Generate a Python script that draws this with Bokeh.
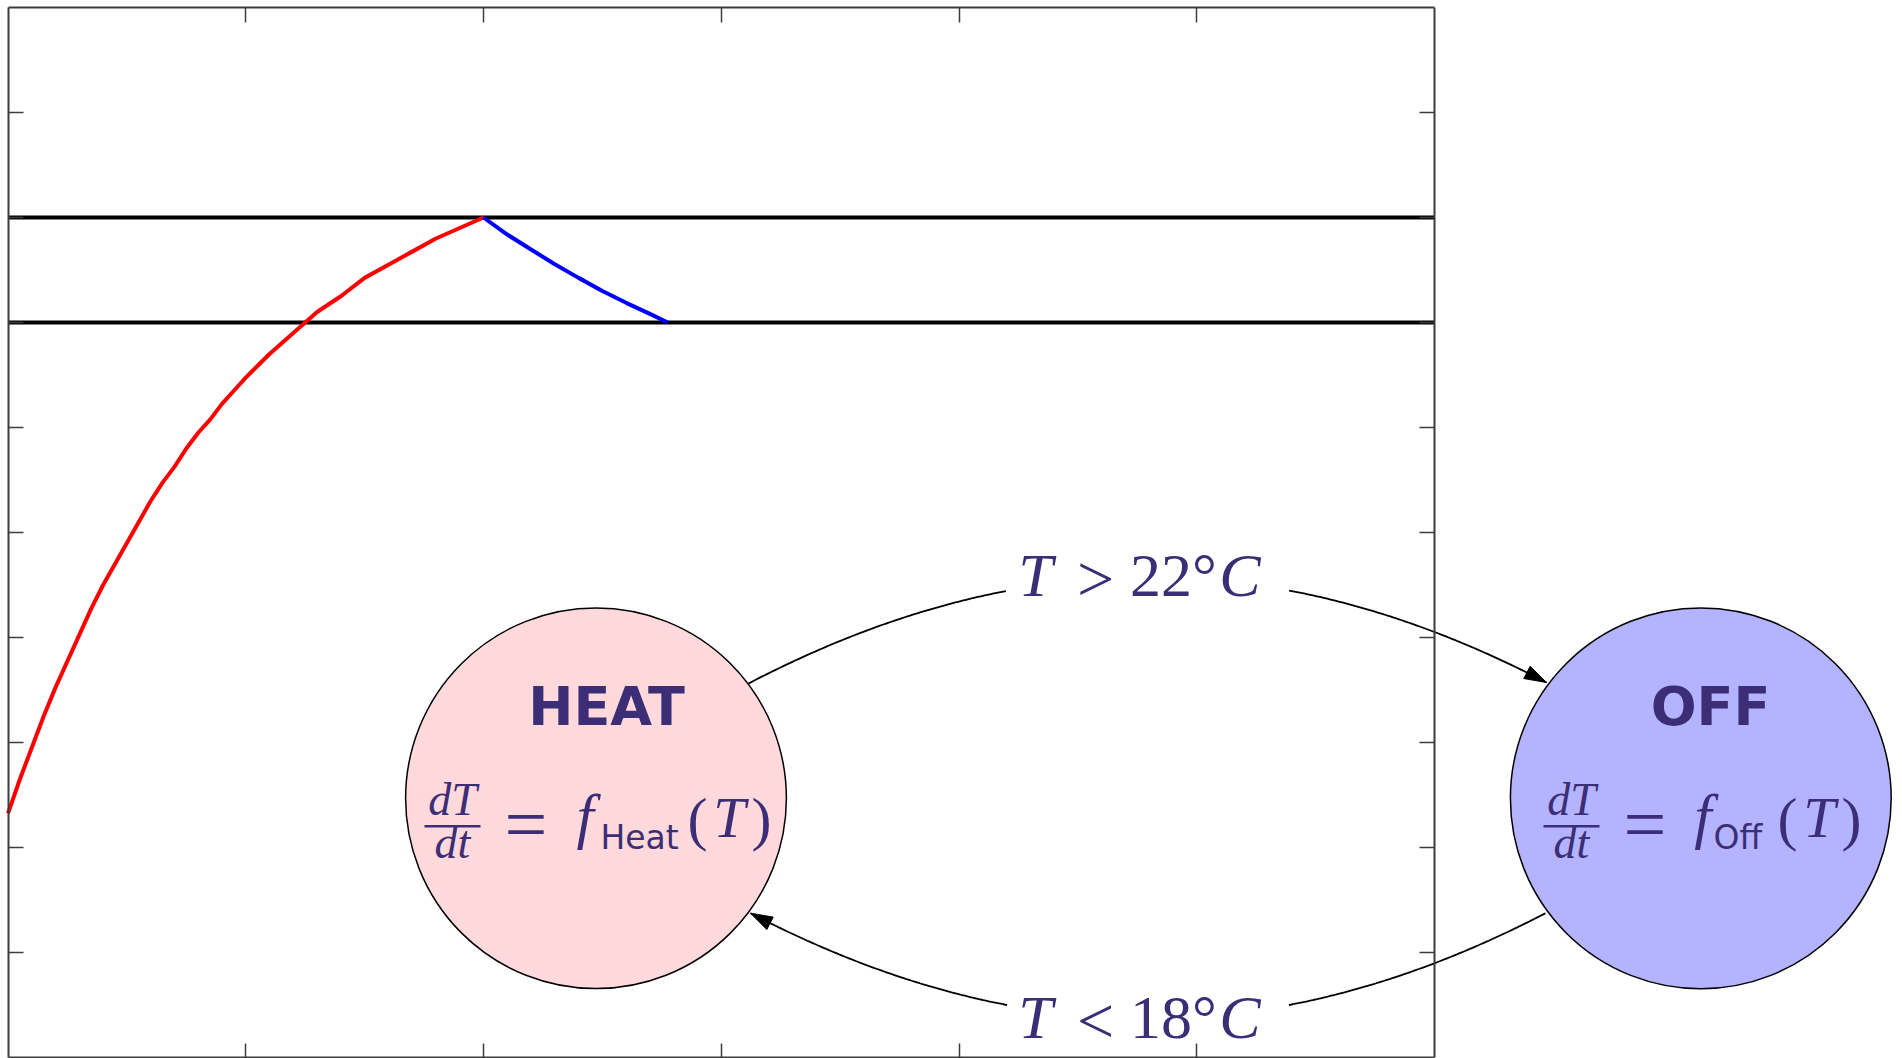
import numpy as np
from bokeh.plotting import figure
from bokeh.models import Range1d, LinearAxis, FixedTicker
from bokeh.core.properties import value
from bokeh.embed import file_html
from bokeh.resources import INLINE

# ---------------- data ----------------
heat_t = [0.0, 0.05, 0.1, 0.15, 0.2, 0.25, 0.3, 0.35, 0.4, 0.45, 0.5, 0.55,
          0.6, 0.65, 0.7, 0.75, 0.8, 0.85, 0.9, 0.95, 1.0,
          1.1, 1.2, 1.3, 1.4, 1.5, 1.6, 1.7, 1.8, 1.9, 2.0]
heat_T = [-0.7, 0.6, 1.8, 3.0, 4.1, 5.1, 6.1, 7.1, 8.0, 8.8, 9.6, 10.4,
          11.2, 11.9, 12.5, 13.2, 13.8, 14.3, 14.9, 15.4, 15.9,
          16.8, 17.6, 18.4, 19.0, 19.7, 20.2, 20.7, 21.2, 21.6, 22.0]
off_t = [2.0, 2.1, 2.2, 2.3, 2.4, 2.5, 2.6, 2.7, 2.775]
off_T = [22.0, 21.35, 20.78, 20.22, 19.7, 19.2, 18.75, 18.33, 18.0]
thresholds = [22, 18]
x_ticks = [1, 2, 3, 4, 5]
y_ticks = [-6, -2, 2, 6, 10, 14, 18, 22, 26]
box_t = [0, 6]
box_T = [-10, 30]

state_names = ["HEAT", "OFF"]
state_subs = ["Heat", "Off"]
guard_heat_to_off = ["T", ">", "22°", "C"]
guard_off_to_heat = ["T", "<", "18°", "C"]

# ---------------- layout / style ----------------
W, H = 1900, 1058
X0, PX_T = 7.5, 237.75         # canvas px of t=0, px per time unit
Y0, PX_D = 7.0, 26.25          # canvas px of T=30, px per degree
FRAME = "#3c3c3c"
INK = "#3b2e76"
SERIF = value("Liberation Serif")
SANS = value("DejaVu Sans")

p = figure(width=W, height=H, output_backend="svg", toolbar_location=None, tools="",
           x_range=Range1d(-X0 / PX_T, (W - X0) / PX_T),
           y_range=Range1d(box_T[1] - (H - Y0) / PX_D, box_T[1] + Y0 / PX_D),
           x_axis_location=None, y_axis_location=None, min_border=0)
p.outline_line_color = None
p.grid.visible = False
p.background_fill_color = "white"
p.border_fill_color = "white"
p.extra_x_ranges = {"px": Range1d(0, W)}
p.extra_y_ranges = {"px": Range1d(H, 0)}
PX = dict(x_range_name="px", y_range_name="px")


def add_axis(side, loc, bounds, ticks, tick_len):
    ax = LinearAxis(fixed_location=loc, bounds=bounds,
                    ticker=FixedTicker(ticks=ticks, minor_ticks=[]),
                    axis_line_color=FRAME, axis_line_width=2,
                    major_tick_line_color=FRAME, major_tick_line_width=1.5,
                    major_tick_in=tick_len, major_tick_out=0,
                    minor_tick_in=0, minor_tick_out=0,
                    major_label_text_color=None)
    p.add_layout(ax, side)


add_axis("left", box_t[0], tuple(box_T), y_ticks, 15)
add_axis("right", box_t[1], tuple(box_T), y_ticks, 15)
add_axis("above", box_T[1], tuple(box_t), x_ticks, 15)
add_axis("below", box_T[0], tuple(box_t), x_ticks, 14)

# threshold lines and trajectory
p.segment(x0=[box_t[0]] * 2, x1=[box_t[1]] * 2, y0=thresholds, y1=thresholds,
          line_color="black", line_width=4)
p.line(heat_t, heat_T, line_color="#ff0000", line_width=4)
p.line(off_t, off_T, line_color="#0000ff", line_width=4)

# ---------------- automaton diagram (page pixel coordinates) ----------------
R = 190.4
heat_c = (595.5, 797.8)
off_c = (1700.3, 797.8)
p.circle(x=[heat_c[0]], y=[heat_c[1]], radius=R, fill_color="#ffd9db",
         line_color="black", line_width=1.5, **PX)
p.circle(x=[off_c[0]], y=[off_c[1]], radius=R, fill_color="#b3b3ff",
         line_color="black", line_width=1.5, **PX)

K_SERIF, K_SANS = 0.36, 0.37   # baseline shift used by the renderer


def txt(x, base, s, size, font=SERIF, style="normal", align="center"):
    k = K_SERIF if font is SERIF else K_SANS
    p.text(x=[x], y=[base - k * size], text=[s], text_font=font, text_font_style=style,
           text_font_size=f"{size}px", text_color=INK, text_align=align,
           text_baseline="alphabetic", **PX)


# state names
txt(606, 725.5, state_names[0], 54, font=SANS, style="bold")
txt(1710, 725.7, state_names[1], 54, font=SANS, style="bold")


def equation(cx, sub, dx):
    # dx: offsets of bar centre, '=', 'f', subscript left, '(', 'T', ')'
    bc, eq, fx, sx, lp, tx, rp = [cx + d for d in dx]
    txt(bc, 816, "dT", 46, style="italic")
    p.segment(x0=[bc - 28], x1=[bc + 28], y0=[825.7], y1=[825.7],
              line_color=INK, line_width=2.5, **PX)
    txt(bc, 859, "dt", 46, style="italic")
    txt(eq, 851, "=", 76)
    txt(fx, 838.3, "f", 62, style="italic")
    txt(sx, 849, sub, 33, font=SANS, align="left")
    txt(lp, 840, "(", 60)
    txt(tx, 838.3, "T", 58, style="italic")
    txt(rp, 840, ")", 60)


equation(heat_c[0], state_subs[0], [-143.5, -70, -11, 4.5, 101.5, 133.5, 165.5])
equation(off_c[0], state_subs[1], [-129.3, -55.8, 2, 12.7, 86.7, 118.7, 150.7])


def bezier(P0, P1, P2, P3, n=300):
    t = np.linspace(0, 1, n)[:, None]
    P0, P1, P2, P3 = map(np.asarray, (P0, P1, P2, P3))
    pts = (1 - t) ** 3 * P0 + 3 * (1 - t) ** 2 * t * P1 + 3 * (1 - t) * t ** 2 * P2 + t ** 3 * P3
    return pts[:, 0], pts[:, 1]


def arc(P0, P3, h, a, gap):
    s = 1 if P3[0] > P0[0] else -1
    P1 = (P0[0] + s * a, P0[1] - s * h)
    P2 = (P3[0] - s * a, P3[1] - s * h)
    xs, ys = bezier(P0, P1, P2, P3)
    mask = (xs > gap[0]) & (xs < gap[1])
    xs = xs.copy(); ys = ys.copy()
    xs[mask] = np.nan; ys[mask] = np.nan
    p.line(xs, ys, line_color="black", line_width=1.8, **PX)
    tip = np.asarray(P3, dtype=float); u = tip - np.asarray(P2); u = u / np.hypot(*u)
    nrm = np.array([-u[1], u[0]])
    base = tip - 22 * u
    v1 = base + 7 * nrm; v2 = base - 7 * nrm
    p.patches(xs=[[tip[0], v1[0], v2[0]]], ys=[[tip[1], v1[1], v2[1]]],
              fill_color="black", line_color="black", line_width=1, **PX)


arc((748, 683), (1546, 682), 141, 271, (1008, 1287))
arc((1545, 912.7), (750, 912.7), 140.4, 271, (1008, 1287))

# guard labels
for base, parts in ((597, guard_heat_to_off), (1038.5, guard_off_to_heat)):
    txt(1035, base, parts[0], 62, style="italic")
    txt(1095, base + 5, parts[1], 66)
    txt(1173, base, parts[2], 62)
    txt(1239.5, base, parts[3], 62, style="italic")

open("out.html", "w").write(file_html(p, INLINE))
